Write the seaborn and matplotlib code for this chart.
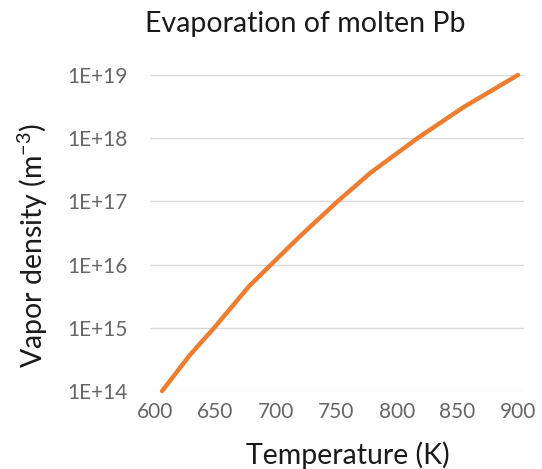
import matplotlib
matplotlib.use("Agg")
import matplotlib.pyplot as plt
import seaborn as sns
import pandas as pd
import numpy as np

temperature = [606, 629, 649, 678, 696, 720, 751, 778, 817, 855, 900]
log_density = [14.0, 14.57, 15.0, 15.66, 16.0, 16.45, 17.0, 17.45, 18.0, 18.49, 19.0]
density = [10 ** v for v in log_density]
x_ticks = [600, 650, 700, 750, 800, 850, 900]
y_ticks = [1e14, 1e15, 1e16, 1e17, 1e18, 1e19]
y_tick_labels = ["1E+14", "1E+15", "1E+16", "1E+17", "1E+18", "1E+19"]

df = pd.DataFrame({"T": temperature, "n": density})

sns.set_theme(style="white")
plt.rcParams["font.family"] = ["Lato", "DejaVu Sans"]

fig = plt.figure(figsize=(5.42, 4.69), dpi=100)
ax = fig.add_axes([150 / 542, 1 - 391 / 469, 374 / 542, (391 - 75) / 469])

sns.lineplot(data=df, x="T", y="n", ax=ax, color="#ED7D31", linewidth=3.2, clip_on=False)
ax.set_yscale("log")
ax.set_ylim(1e14, 1e19)
ax.set_xlim(596, 905)
ax.set_yticks(y_ticks)
ax.set_yticklabels(y_tick_labels)
ax.minorticks_off()
ax.set_xticks(x_ticks)
ax.set_xticklabels([str(t) for t in x_ticks])
ax.tick_params(axis="both", labelsize=15, colors="#666666", length=0)
ax.tick_params(axis="y", pad=16)
ax.tick_params(axis="x", pad=8)
ax.yaxis.grid(True, color="#D9D9D9", linewidth=1)
ax.xaxis.grid(False)
for s in ax.spines.values():
    s.set_visible(False)
ax.set_xlabel("")
ax.set_ylabel("")

fig.text(305 / 542, 1 - 24 / 469, "Evaporation of molten Pb", ha="center", va="center",
         fontsize=20.5, color="#1a1a1a")
fig.text(348 / 542, 1 - 455 / 469, "Temperature (K)", ha="center", va="center",
         fontsize=20.5, color="#1a1a1a")
fig.text(33 / 542, 1 - 245 / 469, "Vapor density (m$^{\\mathregular{-3}}$)", ha="center", va="center",
         rotation=90, fontsize=20.5, color="#1a1a1a")

fig.savefig("out.png", dpi=100)
